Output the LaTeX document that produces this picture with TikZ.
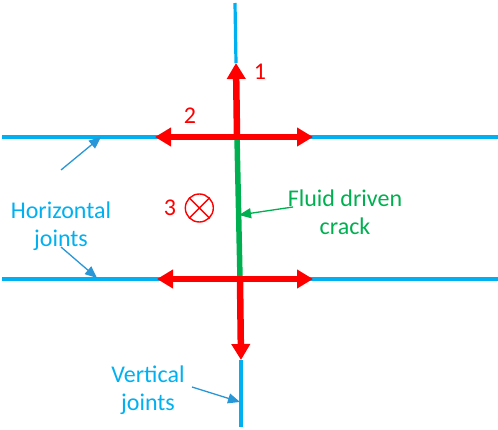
\documentclass[tikz,border=0pt]{standalone}
\usepackage{fontspec}
\setmainfont{Carlito}
\usetikzlibrary{arrows.meta, positioning}
\definecolor{jointblue}{RGB}{0,176,240}
\definecolor{pointblue}{RGB}{40,150,215}
\definecolor{crackgreen}{RGB}{0,176,80}
\tikzset{
  x=1pt, y=-1pt, % one unit per pixel of the reference
  joint/.style={draw=jointblue, line width=3.2pt}, % the joints
  crack/.style={draw=crackgreen, line width=5.5pt},
  push/.style={draw=red, line width=6.5pt,
    arrows={-Triangle[length=16pt, width=18pt]}}, % the red stress arrows
  pointer/.style={draw=pointblue, line width=1.3pt,
    -{Triangle[length=12pt, width=10pt]}},
  label/.style={font=\fontsize{24}{28}\selectfont, align=center},
}
\begin{document}
\begin{tikzpicture}
  \useasboundingbox (0,0) rectangle (498,430);

  % joints and junctions
  \coordinate (top) at (235,3);
  \coordinate (upj) at (237,137);
  \coordinate (lowj) at (240,279);
  \coordinate (bottom) at (241,427);
  \coordinate (uptip) at (236,63);
  \coordinate (downtip) at (241,360);

  \draw[joint] (top) -- (uptip);
  \draw[joint] (downtip) -- (bottom);
  \draw[joint] (2,137) -- (498,137);
  \draw[joint] (2,279) -- (498,279);

  \draw[crack] (upj) -- (lowj);

  % stresses
  \draw[push] (upj) -- (uptip);
  \draw[push] (lowj) -- (downtip);
  \draw[push, arrows={Triangle[length=16pt, width=18pt]-Triangle[length=16pt, width=18pt]}]
    (155,137) -- (313,137);
  \draw[push, arrows={Triangle[length=16pt, width=18pt]-Triangle[length=16pt, width=18pt]}]
    (157,279) -- (313,279);

  \node[label, text=red] (one) at (260,72) {1};
  \node[label, text=red] (two) at (190,116) {2};
  \node[label, text=red] (three) at (170,208) {3};
  \node[draw=red, line width=1.4pt, circle, minimum size=28pt, inner sep=0pt,
    right=5pt of three] (outplane) {};
  \draw[red, line width=1.4pt] (outplane.45) -- (outplane.225)
    (outplane.135) -- (outplane.315);

  % annotations
  \node[label, text=jointblue] (hjoints) at (61,226) {Horizontal\\joints};
  \coordinate (hup) at (101,137);
  \coordinate (hdown) at (97,278);
  \draw[pointer] (61,170) -- (hup);
  \draw[pointer] (61,247) -- (hdown);

  \node[label, text=crackgreen] (fluid) at (345,212) {Fluid driven\\crack};
  \coordinate (crackpt) at (239,215);
  \draw[pointer, draw=crackgreen] (293,207) -- (crackpt);

  \node[label, text=jointblue] (vjoints) at (148,390) {Vertical\\joints};
  \coordinate (vpt) at (240,402);
  \draw[pointer] (192,387) -- (vpt);
\end{tikzpicture}
\end{document}
